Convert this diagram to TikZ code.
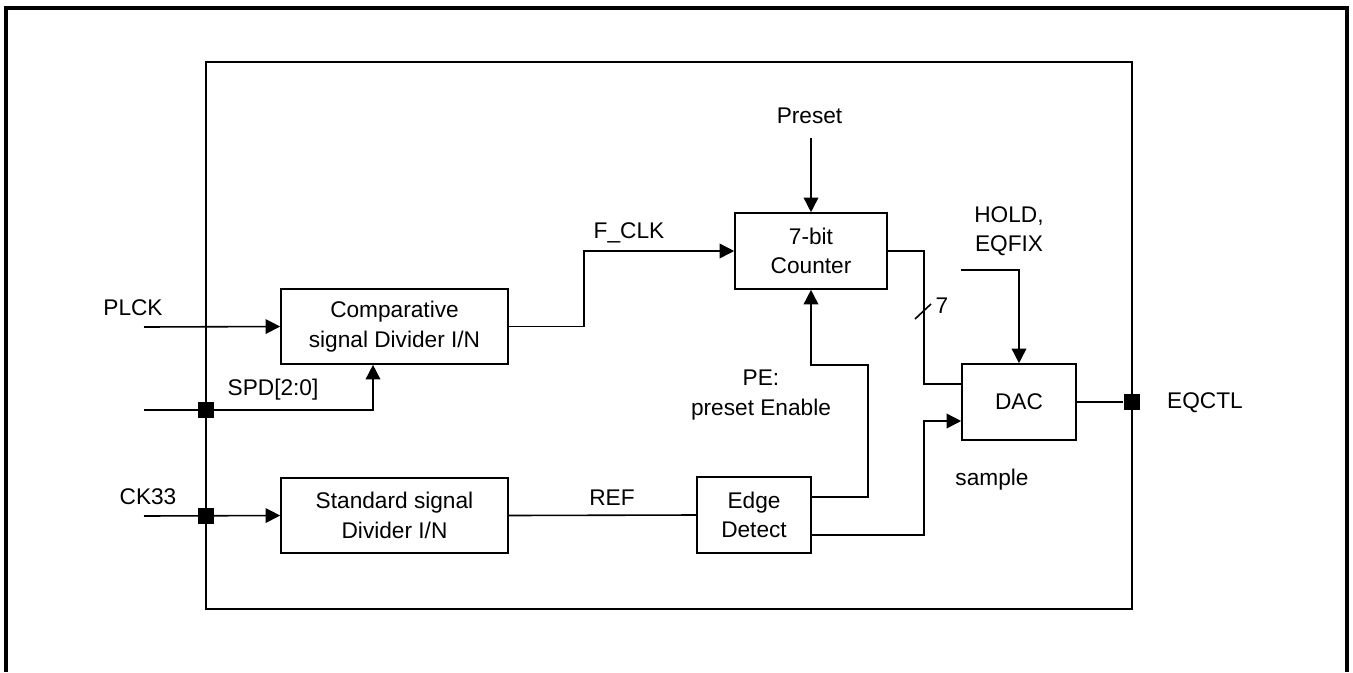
\documentclass[tikz,border=0pt]{standalone}
\usepackage{fontspec}
\setmainfont{Liberation Sans}
\usetikzlibrary{arrows.meta, positioning, calc}

\begin{document}
\begin{tikzpicture}[
      x=0.75pt, y=-0.75pt,
      font=\fontsize{17}{22}\selectfont,
      blk/.style={rectangle, draw, line width=1.2pt, inner sep=0pt, align=center},
      junc/.style={rectangle, fill=black, minimum size=12.5pt, inner sep=0pt},
      wire/.style={line width=1.2pt},
      arr/.style={wire, -{Triangle[length=11pt, width=11pt]}},
      lbl/.style={anchor=base, inner sep=0pt}
    ]
    \useasboundingbox (0,0) rectangle (1353,672);
    % Outer frame, open at the bottom
    \draw[line width=2.5pt] (6,672) -- (6,8) -- (1347,8) -- (1347,672);
    % Chip boundary
    \draw[wire] (206,62) rectangle (1132,609);

    % Blocks
    \node[blk, minimum width=170.25pt, minimum height=56.25pt] (comp) at (394.5,326.5) {Comparative\\signal Divider I/N};
    \node[blk, minimum width=170.25pt, minimum height=56.25pt] (std) at (394.5,515.5) {Standard signal\\Divider I/N};
    \node[blk, minimum width=114pt, minimum height=57pt] (cnt) at (811,251) {7-bit\\Counter};
    \node[blk, minimum width=85.5pt, minimum height=57pt] (edge) at (754,515) {Edge\\Detect};
    \node[blk, minimum width=85.5pt, minimum height=57pt] (dac) at (1019,402) {DAC};

    % Free ends
    \coordinate (plck) at (144,327);
    \coordinate (spd) at (144,410);
    \coordinate (ck) at (144,516);
    \coordinate (pre) at (811,138);
    \coordinate (hold) at (961,270);
    \coordinate (bus) at (923,311.5);

    % Connections
    \draw[arr] (plck) -- (comp.west);
    \draw[arr] (spd) -| ($(comp.south)+(-21.5,0)$);
    \draw[arr] (ck) -- (std.west);
    \draw[arr] (comp.east) -- ++(75,0) |- (cnt.west);
    \draw[arr] (pre) -- (cnt.north);
    \draw[wire] (std.east) -- (edge.west);
    \draw[wire] (cnt.east) -- ++(36,0) |- ($(dac.west)+(0,-18)$);
    \draw[wire] ($(bus)+(-8,7.5)$) -- ($(bus)+(8,-7.5)$);
    \draw[arr] (hold) -| (dac.north);
    \draw[arr] ($(edge.east)+(0,-18)$) -- ++(56,0) |- ($(cnt.south)+(0,75)$) -- (cnt.south);
    \draw[arr] ($(edge.east)+(0,20)$) -- ++(112,0) |- ($(dac.west)+(0,19)$);

    % Pins
    \node[junc] (j1) at (206,410) {};
    \node[junc] (j2) at (206,516) {};
    \node[junc] (j3) at (1132,402) {};
    \draw[wire] (dac.east) -- (j3);

    % Labels
    \node[lbl] at (133,315) {PLCK};
    \node[lbl] at (273,395) {SPD[2:0]};
    \node[lbl] at (148,504) {CK33};
    \node[lbl] at (629,238) {F\_CLK};
    \node[lbl] at (809.5,123) {Preset};
    \node[lbl] at (612,505) {REF};
    \node[align=center, inner sep=0pt] at (761,395) {PE:\\preset Enable};
    \node[align=center, inner sep=0pt] at (1009,231) {HOLD,\\EQFIX};
    \node[lbl] at (942,313) {7};
    \node[lbl] at (992,485) {sample};
    \node[lbl] at (1205,408) {EQCTL};
  \end{tikzpicture}
\end{document}
